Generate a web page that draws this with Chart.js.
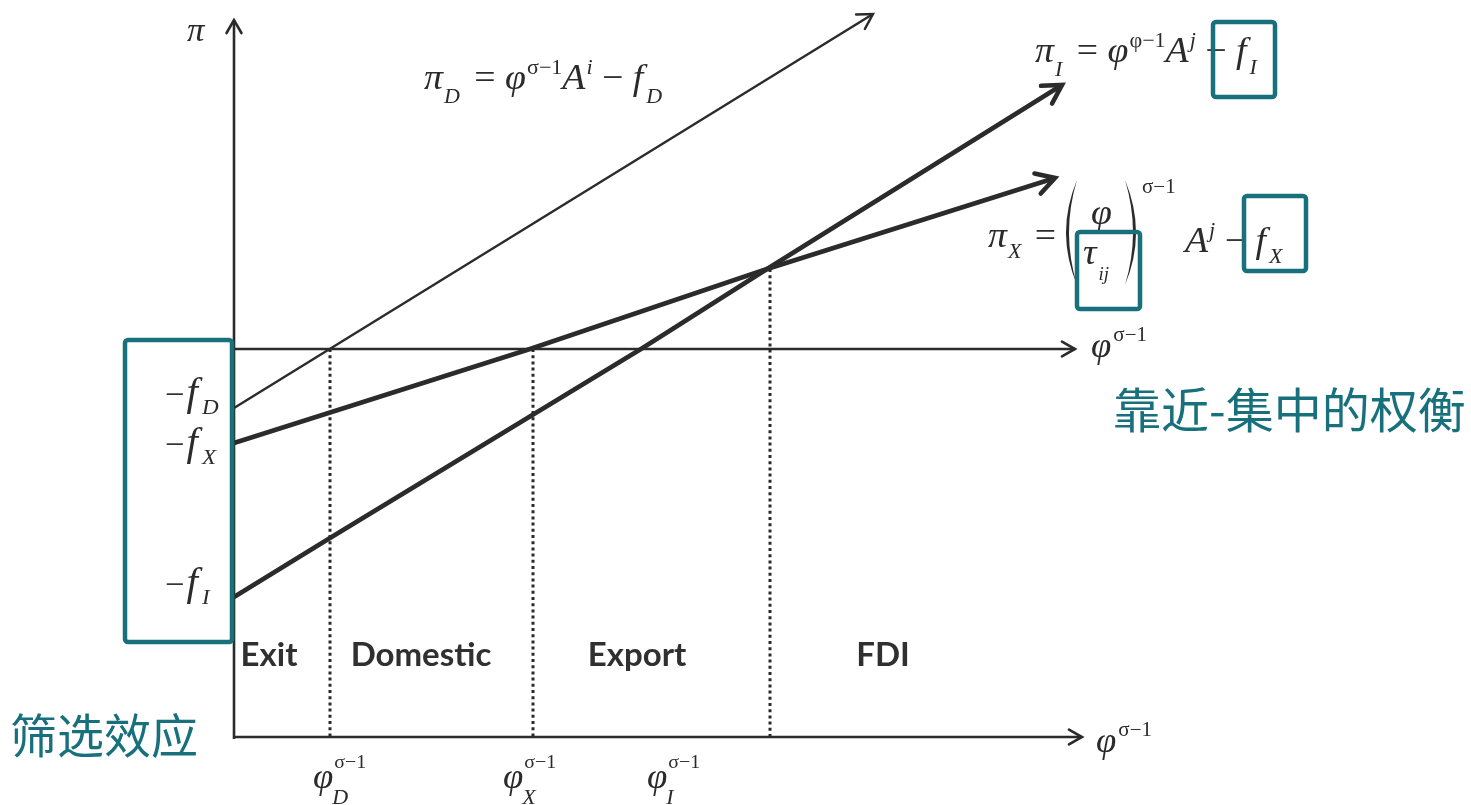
<!DOCTYPE html>
<html>
<head>
<meta charset="utf-8">
<script src="https://cdn.jsdelivr.net/npm/chart.js@4.4.0/dist/chart.umd.min.js"></script>
<style>
  html, body { margin: 0; padding: 0; background: #fff; }
  #wrap { width: 1471px; height: 805px; position: relative; }
</style>
</head>
<body>
<div id="wrap"><canvas id="c"></canvas></div>
<script>
// x = phi^(sigma-1) (productivity), y = profit pi
const profitD = [[0, -0.59], [6.39, 3.35]];
const profitX = [[0, -0.94], [2.96, 0], [5.33, 0.80], [8.21, 1.71]];
const profitI = [[0, -2.48], [0.96, -1.89], [4.07, 0], [5.33, 0.80], [8.28, 2.64]];

// cutoff productivities and where their dotted lines start
const cutoffs = [0.96, 2.99, 5.36];
const cutoffTops = [0, 0, 0.80];
const cutoffNames = ['D', 'X', 'I'];
const cutoffLabelX = [0.79, 2.69, 4.13];

// regions between cutoffs
const regions = ['Exit', 'Domestic', 'Export', 'FDI'];
const regionX = [0.35, 1.87, 4.03, 6.49];

// fixed cost labels on the vertical axis
const costNames = ['D', 'X', 'I'];
const costLabelY = [-0.57, -1.07, -2.47];

const xRange = [-2.34, 12.37];
const yRange = [-4.56, 3.49];
const floorY = -3.88;
const axisTop = 3.29;
const axisEnd = [8.41, 8.48];

const INK = '#2b2b2b';
const TEAL = '#17707b';
const SERIF = '"Liberation Serif", "DejaVu Serif", serif';
const STRETCH = 1.05;

function pts(arr) { return arr.map(p => ({ x: p[0], y: p[1] })); }

function lineSet(data, width, extra) {
    return Object.assign({
        data: pts(data), showLine: true, borderColor: INK, borderWidth: width,
        pointRadius: 0, fill: false, tension: 0, borderCapStyle: 'butt', borderJoinStyle: 'round'
    }, extra || {});
}

const datasets = [
    lineSet([[0, floorY - 0.02], [0, axisTop]], 2.6, { arrow: 15 }),
    lineSet([[0, 0], [axisEnd[0], 0]], 2.6, { arrow: 15 }),
    lineSet([[0, floorY], [axisEnd[1], floorY]], 2.6, { arrow: 15 }),
    lineSet(profitD, 2.4, { arrow: 17 }),
    lineSet(profitX, 4.6, { arrow: 21 }),
    lineSet(profitI, 4.6, { arrow: 21 })
];
cutoffs.forEach((c, i) => {
    datasets.push(lineSet([[c, cutoffTops[i]], [c, floorY]], 3, { borderDash: [3, 3.2] }));
});

// row of text pieces: [text, size, dy, italic, gapAfter]
function run(ctx, x, y, parts) {
    parts.forEach(p => {
        ctx.save();
        ctx.font = (p[3] ? 'italic ' : '') + p[1] + 'px ' + SERIF;
        ctx.translate(x, y + p[2]);
        ctx.scale(STRETCH, 1);
        ctx.fillText(p[0], 0, 0);
        const w = ctx.measureText(p[0]).width;
        ctx.restore();
        x += w * STRETCH + (p[4] || 0);
    });
    return x;
}

function box(ctx, x1, y1, x2, y2) {
    ctx.save();
    ctx.strokeStyle = TEAL;
    ctx.lineWidth = 4.5;
    ctx.lineJoin = 'round';
    ctx.beginPath();
    ctx.roundRect(x1, y1, x2 - x1, y2 - y1, 3);
    ctx.stroke();
    ctx.restore();
}

function paren(ctx, x, top, bot, dir) {
    const mid = (top + bot) / 2;
    ctx.beginPath();
    ctx.moveTo(x, top);
    ctx.quadraticCurveTo(x - dir * 22, mid, x, bot);
    ctx.quadraticCurveTo(x - dir * 16, mid, x, top);
    ctx.fill();
}

const M = 36, S = 21;

const decor = {
    id: 'decor',
    beforeDraw(chart) {
        const ctx = chart.ctx;
        ctx.save();
        ctx.fillStyle = '#fff';
        ctx.fillRect(0, 0, chart.width, chart.height);
        ctx.restore();
    },
    afterDatasetsDraw(chart) {
        const ctx = chart.ctx;
        const sx = v => chart.scales.x.getPixelForValue(v);
        const sy = v => chart.scales.y.getPixelForValue(v);

        // arrow heads
        chart.data.datasets.forEach((ds, i) => {
            if (!ds.arrow) return;
            const pts = chart.getDatasetMeta(i).data;
            const a = pts[pts.length - 2], b = pts[pts.length - 1];
            const ang = Math.atan2(b.y - a.y, b.x - a.x);
            const L = ds.arrow, spread = 0.52;
            ctx.save();
            ctx.strokeStyle = INK;
            ctx.lineWidth = ds.borderWidth;
            ctx.lineCap = 'round';
            ctx.lineJoin = 'miter';
            ctx.beginPath();
            ctx.moveTo(b.x - L * Math.cos(ang - spread), b.y - L * Math.sin(ang - spread));
            ctx.lineTo(b.x, b.y);
            ctx.lineTo(b.x - L * Math.cos(ang + spread), b.y - L * Math.sin(ang + spread));
            ctx.stroke();
            ctx.restore();
        });

        ctx.save();
        ctx.fillStyle = INK;
        ctx.textBaseline = 'alphabetic';
        ctx.textAlign = 'left';

        // axis names
        run(ctx, sx(0) - 47, sy(axisTop) + 21, [['π', 33, 0, 1]]);
        let x = run(ctx, sx(axisEnd[0]) + 16, sy(0) + 8, [['φ', 35, 0, 1, 2]]);
        run(ctx, x, sy(0) - 8, [['σ−1', 20, 0, 0]]);
        x = run(ctx, sx(axisEnd[1]) + 14, sy(floorY) + 15, [['φ', 35, 0, 1, 2]]);
        run(ctx, x, sy(floorY) - 1, [['σ−1', 20, 0, 0]]);

        // cutoff labels under the axis
        cutoffNames.forEach((n, i) => {
            const x0 = sx(cutoffLabelX[i]);
            const x1 = run(ctx, x0, 788, [['φ', 35, 0, 1]]);
            run(ctx, x1 + 1, 768, [['σ−1', 19, 0, 0]]);
            run(ctx, x1 - 1, 804, [[n, 21, 0, 1]]);
        });

        // fixed cost labels
        costNames.forEach((n, i) => {
            run(ctx, 165, sy(costLabelY[i]) - 1, [['−', 33, 0, 0, 2], ['f', 39, 0, 1, 4], [n, 22, 9, 1]]);
        });

        // profit equations
        run(ctx, 424, 89, [['π', M, 0, 1, 1], ['D', S, 14, 1, 5], [' = ', M, 0, 0], ['φ', M, 0, 1, 1],
            ['σ−1', S, -15, 0], ['A', M, 0, 1, 1], ['i', S, -15, 1], [' − ', M, 0, 0], ['f', M, 0, 1, 3], ['D', S, 14, 1]]);
        run(ctx, 1035, 62, [['π', M, 0, 1, 1], ['I', S, 14, 1, 5], [' = ', M, 0, 0], ['φ', M, 0, 1, 1],
            ['φ−1', S, -15, 0], ['A', M, 0, 1, 1], ['j', S, -15, 1], [' − ', M, 0, 0], ['f', M, 0, 1, 3], ['I', S, 12, 1]]);
        run(ctx, 988, 247, [['π', M, 0, 1, 1], ['X', S, 11, 1, 4], [' =', M, 0, 0]]);
        run(ctx, 1091, 224, [['φ', M, 0, 1]]);
        run(ctx, 1083, 264, [['τ', M, 0, 1, 2], ['ij', 18, 16, 1]]);
        run(ctx, 1142, 193, [['σ−1', 20, 0, 0]]);
        run(ctx, 1185, 252, [['A', M, 0, 1, 1], ['j', S, -15, 1], [' − ', M, 0, 0], ['f', M, 0, 1, 3], ['X', S, 11, 1]]);
        paren(ctx, 1077, 180, 285, 1);
        paren(ctx, 1125, 180, 285, -1);

        // region names
        ctx.font = 'bold 33px Lato, "Open Sans", sans-serif';
        ctx.fillStyle = '#303030';
        ctx.textAlign = 'center';
        ctx.textBaseline = 'middle';
        regions.forEach((r, i) => ctx.fillText(r, sx(regionX[i]), sy(-3.06)));

        // teal highlights
        ctx.fillStyle = TEAL;
        ctx.textAlign = 'left';
        ctx.font = '48px "Noto Sans CJK SC", sans-serif';
        ctx.fillText('靠近-集中的权衡', 1113, 410);
        ctx.font = '47px "Noto Sans CJK SC", sans-serif';
        ctx.fillText('筛选效应', 10, 735);
        ctx.restore();

        box(ctx, 1213, 22, 1275, 97);
        box(ctx, 1077, 232, 1140, 309);
        box(ctx, 1244, 196, 1306, 271);
        box(ctx, 125, 340, 232, 642);
    }
};

new Chart(document.getElementById('c'), {
    type: 'scatter',
    data: { datasets: datasets },
    options: {
        responsive: true,
        maintainAspectRatio: false,
        animation: false,
        events: [],
        layout: { padding: 0 },
        plugins: { legend: { display: false }, tooltip: { enabled: false } },
        scales: {
            x: { type: 'linear', display: false, min: xRange[0], max: xRange[1] },
            y: { type: 'linear', display: false, min: yRange[0], max: yRange[1] }
        }
    },
    plugins: [decor]
});
</script>
</body>
</html>
